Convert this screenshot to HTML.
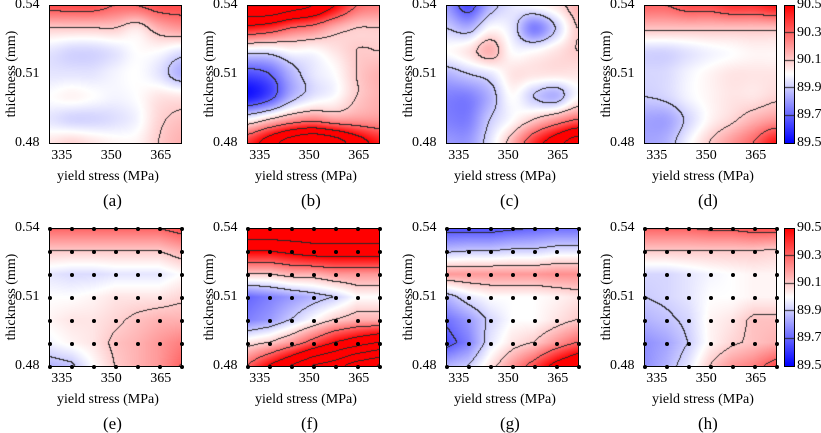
<!DOCTYPE html>
<html><head><meta charset="utf-8">
<style>
body{margin:0;background:#fff;width:821px;height:432px;overflow:hidden;position:relative;font-family:"Liberation Serif",serif;color:#000}
.t{position:absolute;font-size:14px;white-space:nowrap;line-height:1}
.lab{position:absolute;font-size:17px;white-space:nowrap;line-height:1}
canvas{position:absolute}
.frame{position:absolute;border:1px solid #000;box-sizing:border-box}
</style></head><body>
<script>
const xTicks=[335,350,365];
const yTicks=[0.54,0.51,0.48];
const xRange=[331,371];
const yRange=[0.48,0.54];
const cbTicks=[90.5,90.3,90.1,89.9,89.7,89.5];
const panelNames=['a','b','c','d','e','f','g','h'];
// grids: rows top (0.54) to bottom (0.48), 7 columns from 331 to 371
const gridA=[[90.35,90.35,90.35,90.3,90.3,90.35,90.35],[90.1,90.1,90.1,90.1,90.05,90.15,90.2],[89.95,89.92,89.92,89.95,90.0,90.0,89.95],[89.95,89.95,89.95,89.98,90.0,89.95,89.85],[90.0,90.02,90.0,89.98,90.0,90.05,90.05],[89.95,89.92,89.92,89.94,89.98,90.08,90.12],[90.05,90.08,90.05,90.02,90.02,90.1,90.15]];
const gridB=[[90.9,90.9,90.8,90.7,90.5,90.3,90.25],[90.45,90.4,90.3,90.25,90.15,90.1,90.1],[89.95,89.95,90.0,90.0,90.05,90.1,90.1],[89.65,89.7,89.85,89.95,90.0,90.1,90.15],[89.55,89.65,89.85,89.95,90.0,90.1,90.15],[90.0,90.1,90.2,90.25,90.2,90.2,90.2],[90.4,90.6,90.8,90.9,90.8,90.6,90.45]];
const gridC=[[89.8,89.65,89.85,89.95,90.0,90.05,90.15],[89.9,89.85,90.0,89.95,89.75,89.9,90.1],[90.0,90.05,90.15,90.0,90.0,90.05,90.1],[89.85,89.9,89.95,90.05,90.05,90.05,90.05],[89.75,89.75,89.85,90.0,89.9,89.85,90.0],[89.75,89.75,89.9,90.0,90.1,90.2,90.3],[89.8,89.8,89.95,90.15,90.4,90.6,90.8]];
const gridD=[[90.3,90.3,90.35,90.35,90.4,90.4,90.45],[90.12,90.12,90.12,90.12,90.12,90.12,90.12],[89.92,89.92,89.95,89.98,90.0,90.02,90.02],[89.92,89.93,89.98,90.02,90.05,90.05,90.05],[89.9,89.92,89.98,90.02,90.05,90.05,90.08],[89.82,89.82,89.92,90.02,90.08,90.15,90.2],[89.82,89.85,89.98,90.1,90.2,90.3,90.45]];
const gridE=[[90.3,90.3,90.3,90.3,90.3,90.3,90.35],[90.1,90.1,90.1,90.1,90.1,90.1,90.15],[89.95,89.93,89.93,89.95,89.95,89.95,90.0],[90.0,90.0,90.02,90.05,90.05,90.05,90.08],[90.02,90.05,90.05,90.08,90.12,90.15,90.15],[89.98,90.02,90.05,90.12,90.15,90.2,90.25],[89.85,89.88,90.0,90.1,90.15,90.2,90.3]];
const gridF=[[90.9,90.9,90.9,90.9,90.9,90.9,90.9],[90.5,90.5,90.55,90.6,90.6,90.6,90.6],[90.1,90.1,90.15,90.15,90.2,90.2,90.2],[89.7,89.75,89.8,89.85,89.9,90.0,90.0],[89.75,89.8,89.9,90.0,90.1,90.15,90.15],[90.05,90.1,90.2,90.35,90.5,90.6,90.7],[90.3,90.5,90.7,90.9,91.0,91.2,91.3]];
const gridG=[[89.65,89.65,89.65,89.68,89.7,89.72,89.72],[89.88,89.9,89.9,89.92,89.92,89.95,89.95],[90.2,90.2,90.2,90.2,90.2,90.22,90.22],[89.85,89.95,90.0,90.0,90.0,90.02,90.05],[89.72,89.8,89.92,90.0,90.0,90.05,90.1],[89.65,89.75,89.95,90.05,90.1,90.2,90.3],[89.85,89.9,90.05,90.2,90.35,90.55,90.7]];
const gridH=[[90.3,90.3,90.3,90.32,90.32,90.35,90.35],[90.1,90.1,90.1,90.1,90.1,90.1,90.08],[89.92,89.92,89.95,89.98,90.0,90.02,90.02],[89.9,89.92,89.95,90.0,90.0,90.02,90.02],[89.85,89.88,89.92,90.02,90.05,90.12,90.12],[89.78,89.82,89.9,90.02,90.08,90.12,90.15],[89.78,89.85,89.95,90.1,90.2,90.25,90.35]];
const grids=[gridA,gridB,gridC,gridD,gridE,gridF,gridG,gridH];

const PW=132,PH=138,lefts=[49,247,446,644],tops=[5,228];
function color(v){let t=(v-89.5)/1;t=Math.max(0,Math.min(1,t));
 if(t<0.5){const s=t/0.5;return [Math.round(s*255),Math.round(s*255),255];}
 const s=(t-0.5)/0.5;return [255,Math.round((1-s)*255),Math.round((1-s)*255)];}
function cr(p0,p1,p2,p3,t){return 0.5*(2*p1+(-p0+p2)*t+(2*p0-5*p1+4*p2-p3)*t*t+(-p0+3*p1-3*p2+p3)*t*t*t);}
function sample(g,fx,fy,smooth){
 const n=6;const i=Math.min(n-1,Math.floor(fx)),j=Math.min(n-1,Math.floor(fy));const tx=fx-i,ty=fy-j;
 const G=(r,c)=>g[Math.max(0,Math.min(n,r))][Math.max(0,Math.min(n,c))];
 if(!smooth){return (G(j,i)*(1-tx)+G(j,i+1)*tx)*(1-ty)+(G(j+1,i)*(1-tx)+G(j+1,i+1)*tx)*ty;}
 const rows=[];for(let r=-1;r<3;r++)rows.push(cr(G(j+r,i-1),G(j+r,i),G(j+r,i+1),G(j+r,i+2),tx));
 return cr(rows[0],rows[1],rows[2],rows[3],ty);}
function txt(s,x,y,cls,name,extra){const d=document.createElement('div');d.className=cls;d.textContent=s;d.style.left=x+'px';d.style.top=y+'px';if(extra)d.style.cssText+=extra;
 
 
 document.body.appendChild(d);return d;}
const xs=v=>(v-xRange[0])/(xRange[1]-xRange[0])*PW;
const ys=v=>(yRange[1]-v)/(yRange[1]-yRange[0])*PH;

grids.forEach((g,k)=>{
 const L=lefts[k%4],T=tops[k<4?0:1],smooth=k<4;
 const c=document.createElement('canvas');c.width=PW;c.height=PH;c.style.left=L+'px';c.style.top=T+'px';
 
 
 document.body.appendChild(c);
 const ctx=c.getContext('2d');const img=ctx.createImageData(PW,PH);
 const vals=new Float32Array(PW*PH);
 for(let y=0;y<PH;y++)for(let x=0;x<PW;x++){vals[y*PW+x]=sample(g,x/(PW-1)*6,y/(PH-1)*6,smooth);}
 const lev=v=>Math.floor((v-89.7)/0.2);
 for(let y=0;y<PH;y++)for(let x=0;x<PW;x++){const v=vals[y*PW+x];let col=color(v);
  const l=lev(v);let edge=(x<PW-1&&lev(vals[y*PW+x+1])!==l)||(y<PH-1&&lev(vals[(y+1)*PW+x])!==l);
  if(edge)col=[40,40,40];const o=(y*PW+x)*4;img.data[o]=col[0];img.data[o+1]=col[1];img.data[o+2]=col[2];img.data[o+3]=255;}
 ctx.putImageData(img,0,0);
 const f=document.createElement('div');f.className='frame';f.style.cssText=`left:${L}px;top:${T}px;width:${PW+1}px;height:${PH+1}px`;
 
 
 document.body.appendChild(f);
 if(!smooth){for(let r=0;r<7;r++)for(let q=0;q<7;q++){const d=document.createElement('div');
  d.style.cssText=`position:absolute;width:4px;height:4px;border-radius:2px;background:#000;left:${L+q/6*PW-1.5}px;top:${T+r/6*PH-1.5}px`;
  
  
  document.body.appendChild(d);}}
 xTicks.forEach(v=>{txt(String(v),L+xs(v)-11,T+PH+6,'t','x-tick-label');});
 yTicks.forEach(v=>{txt(v.toFixed(2),L-34,T+ys(v)-7,'t','y-tick-label');});
 txt('yield stress (MPa)',L+8,T+PH+27,'t','x-axis-title');
 txt('thickness (mm)',L-37-50,T+PH/2-7,'t','y-axis-title','transform:rotate(-90deg);transform-origin:50% 50%;width:100px;text-align:center');
 txt('('+panelNames[k]+')',L+PW/2-12,T+PH+49,'lab','panel-label');
});
[5,228].forEach(T=>{
 const c=document.createElement('canvas');c.width=10;c.height=PH;c.style.left='784px';c.style.top=T+'px';
 
 
 document.body.appendChild(c);const ctx=c.getContext('2d');
 for(let y=0;y<PH;y++){const v=90.5-y/(PH-1);const col=color(v);ctx.fillStyle=`rgb(${col})`;ctx.fillRect(0,y,10,1);}
 ctx.fillStyle='#222';[89.7,89.9,90.1,90.3].forEach(v=>{ctx.fillRect(0,Math.round((90.5-v)*(PH-1)),10,1);});
 const f=document.createElement('div');f.className='frame';f.style.cssText=`left:784px;top:${T}px;width:11px;height:${PH+1}px`;
 
 
 document.body.appendChild(f);
 cbTicks.forEach(v=>{txt(v.toFixed(1),797,T+(90.5-v)*PH-7,'t','colorbar-tick-label');});
});
</script>
</body></html>
